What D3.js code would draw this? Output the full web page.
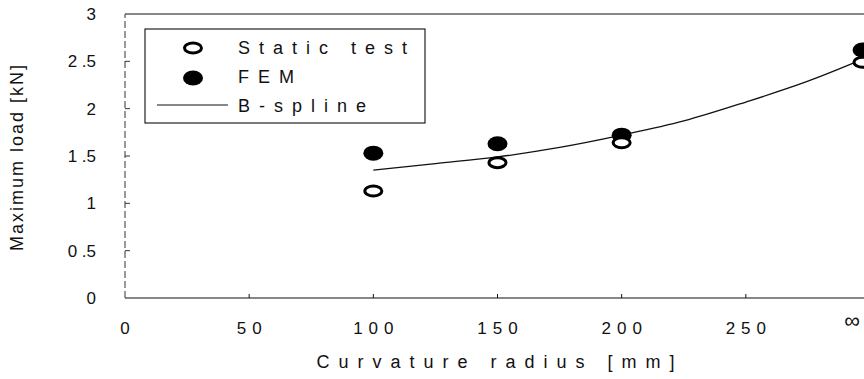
<!DOCTYPE html>
<html>
<head>
<meta charset="utf-8">
<script src="https://cdn.jsdelivr.net/npm/d3@7"></script>
<style>
  body { margin: 0; background: #fff; }
  svg text { font-family: "Liberation Sans", Arial, sans-serif; fill: #111; }
</style>
</head>
<body>
<svg id="chart" width="864" height="379"></svg>
<script>
// données
const radius = [100, 150, 200, 297];          // 297 = position de "∞"
const staticTest = [1.13, 1.43, 1.64, 2.49];
const fem = [1.53, 1.63, 1.72, 2.62];
const splineX = [100, 125, 150, 175, 200, 225, 250, 275, 296];
const splineY = [1.35, 1.42, 1.49, 1.59, 1.72, 1.87, 2.07, 2.29, 2.51];
const xTicks = [0, 50, 100, 150, 200, 250];
const xTickLabels = ["0", "50", "100", "150", "200", "250"];
const yTicks = [0, 0.5, 1, 1.5, 2, 2.5, 3];
const yTickLabels = ["0", "0 .5", "1", "1 .5", "2", "2 .5", "3"];
const legendItems = ["Static test", "FEM", "B-spline"];

const svg = d3.select("#chart");

const x = d3.scaleLinear().domain([0, 300]).range([125, 870]);
const y = d3.scaleLinear().domain([0, 3]).range([298, 14]);

// axe X
svg.append("line")
  .attr("x1", x(0)).attr("x2", 864).attr("y1", y(0)).attr("y2", y(0))
  .attr("stroke", "#111").attr("stroke-width", 1.2);
svg.selectAll(".xt").data(xTicks.slice(1)).enter().append("line")
  .attr("x1", d => x(d)).attr("x2", d => x(d))
  .attr("y1", y(0)).attr("y2", y(0) - 4)
  .attr("stroke", "#111");
svg.selectAll(".xl").data(xTicks).enter().append("text")
  .attr("x", d => x(d) + 3).attr("y", 334)
  .attr("text-anchor", "middle")
  .style("font-size", "17px").style("letter-spacing", "6px")
  .text((d, i) => xTickLabels[i]);
svg.append("text")
  .attr("x", 852).attr("y", 328).attr("text-anchor", "middle")
  .style("font-size", "22px").text("∞");

// ligne du haut
svg.append("line")
  .attr("x1", x(0)).attr("x2", 864).attr("y1", y(3)).attr("y2", y(3))
  .attr("stroke", "#111").attr("stroke-width", 1.2);

// axe Y (pointillé)
svg.append("line")
  .attr("x1", x(0)).attr("x2", x(0)).attr("y1", y(0)).attr("y2", y(3))
  .attr("stroke", "#333").attr("stroke-width", 1).attr("stroke-dasharray", "7,3");
svg.selectAll(".yt").data(yTicks.slice(1, -1)).enter().append("line")
  .attr("x1", x(0)).attr("x2", x(0) + 5)
  .attr("y1", d => y(d)).attr("y2", d => y(d))
  .attr("stroke", "#333");
svg.selectAll(".yl").data(yTicks).enter().append("text")
  .attr("x", 96).attr("y", d => y(d) + 6)
  .attr("text-anchor", "end")
  .style("font-size", "17px")
  .text((d, i) => yTickLabels[i]);

// titres
svg.append("text")
  .attr("transform", "translate(23,157) rotate(-90)")
  .attr("text-anchor", "middle")
  .style("font-size", "18px").style("letter-spacing", "2px")
  .text("Maximum load [kN]");
svg.append("text")
  .attr("x", 500).attr("y", 368)
  .attr("text-anchor", "middle")
  .style("font-size", "18px").style("letter-spacing", "9px")
  .text("Curvature radius [mm]");

// courbe B-spline
const line = d3.line()
  .x((d, i) => x(splineX[i]))
  .y(d => y(d))
  .curve(d3.curveMonotoneX);
svg.append("path")
  .attr("d", line(splineY))
  .attr("fill", "none").attr("stroke", "#111").attr("stroke-width", 1.3);

// points
svg.selectAll(".fem").data(fem).enter().append("ellipse")
  .attr("cx", (d, i) => x(radius[i])).attr("cy", d => y(d))
  .attr("rx", 10).attr("ry", 7.5).attr("fill", "#000");
svg.selectAll(".st").data(staticTest).enter().append("ellipse")
  .attr("cx", (d, i) => x(radius[i])).attr("cy", d => y(d))
  .attr("rx", 8.5).attr("ry", 5).attr("fill", "#fff")
  .attr("stroke", "#000").attr("stroke-width", 3);

// légende
const lg = svg.append("g");
lg.append("rect")
  .attr("x", 145).attr("y", 29).attr("width", 280).attr("height", 94)
  .attr("fill", "#fff").attr("stroke", "#222").attr("stroke-width", 1.2);
lg.append("ellipse").attr("cx", 193).attr("cy", 48).attr("rx", 8.5).attr("ry", 5)
  .attr("fill", "#fff").attr("stroke", "#000").attr("stroke-width", 3);
lg.append("ellipse").attr("cx", 193).attr("cy", 78).attr("rx", 10).attr("ry", 7.5)
  .attr("fill", "#000");
lg.append("line").attr("x1", 157).attr("x2", 228).attr("y1", 105).attr("y2", 105)
  .attr("stroke", "#111").attr("stroke-width", 1.2);
lg.selectAll("text").data(legendItems).enter().append("text")
  .attr("x", 238).attr("y", (d, i) => 54 + i * 29)
  .style("font-size", "18px").style("letter-spacing", "9px")
  .text(d => d);
</script>
</body>
</html>
